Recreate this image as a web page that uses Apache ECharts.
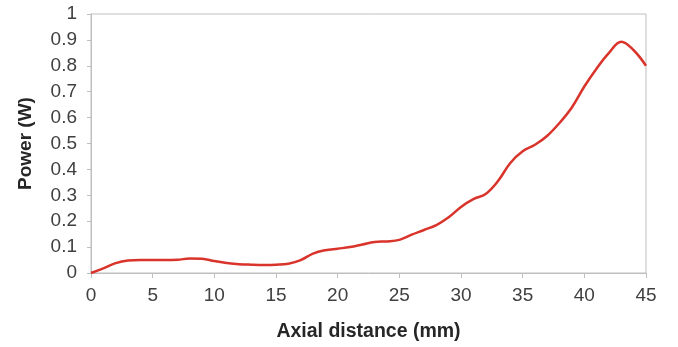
<!DOCTYPE html>
<html><head><meta charset="utf-8">
<script src="https://cdn.jsdelivr.net/npm/echarts@6/dist/echarts.min.js"></script>
<style>html,body{margin:0;padding:0;background:#fff}#c{width:678px;height:347px}</style>
</head><body><div id="c"></div>
<script>
const distances = [0,1,2,3,4,5,6,7,8,9,10,11,12,13,14,15,16,17,18,19,20,21,22,23,24,25,26,27,28,29,30,31,32,33,34,35,36,37,38,39,40,41,42,43,44,45];
const power = [0,0.018,0.038,0.048,0.05,0.05,0.05,0.051,0.056,0.055,0.046,0.039,0.034,0.032,0.031,0.032,0.036,0.05,0.075,0.088,0.094,0.1,0.11,0.12,0.122,0.128,0.148,0.166,0.185,0.215,0.255,0.285,0.305,0.355,0.425,0.47,0.495,0.53,0.58,0.64,0.72,0.79,0.85,0.893,0.86,0.80];
const xTitle = 'Axial distance (mm)';
const yTitle = 'Power (W)';

const chart = echarts.init(document.getElementById('c'));
const axisCol = '#bfbfbf';
const txtCol = '#404040';
chart.setOption({
  animation: false,
  grid: {left: 91, right: 32, top: 14, bottom: 72, show: true, borderColor: axisCol, borderWidth: 1},
  xAxis: {
    type: 'value', min: 0, max: 45, interval: 5,
    name: xTitle, nameLocation: 'middle', nameGap: 49,
    nameTextStyle: {fontFamily: 'Liberation Sans, Arial', fontWeight: 'bold', fontSize: 19.5, color: '#262626'},
    axisLine: {show: true, lineStyle: {color: axisCol}},
    axisTick: {show: true, length: 5, lineStyle: {color: axisCol}},
    splitLine: {show: false},
    axisLabel: {fontFamily: 'Liberation Sans, Arial', fontSize: 19, color: txtCol, margin: 13}
  },
  yAxis: {
    type: 'value', min: 0, max: 1, interval: 0.1,
    name: yTitle, nameLocation: 'middle', nameGap: 56,
    nameTextStyle: {fontFamily: 'Liberation Sans, Arial', fontWeight: 'bold', fontSize: 19, color: '#262626'},
    axisLine: {show: true, lineStyle: {color: axisCol}},
    axisTick: {show: true, length: 4, lineStyle: {color: axisCol}},
    splitLine: {show: false},
    axisLabel: {fontFamily: 'Liberation Sans, Arial', fontSize: 19, color: txtCol, margin: 14,
      formatter: v => String(Math.round(v*10)/10)}
  },
  series: [{
    type: 'line', smooth: 0.4, showSymbol: false,
    data: distances.map((d, i) => [d, power[i]]),
    lineStyle: {color: '#d9342b', width: 2.5}
  }]
});
</script></body></html>
